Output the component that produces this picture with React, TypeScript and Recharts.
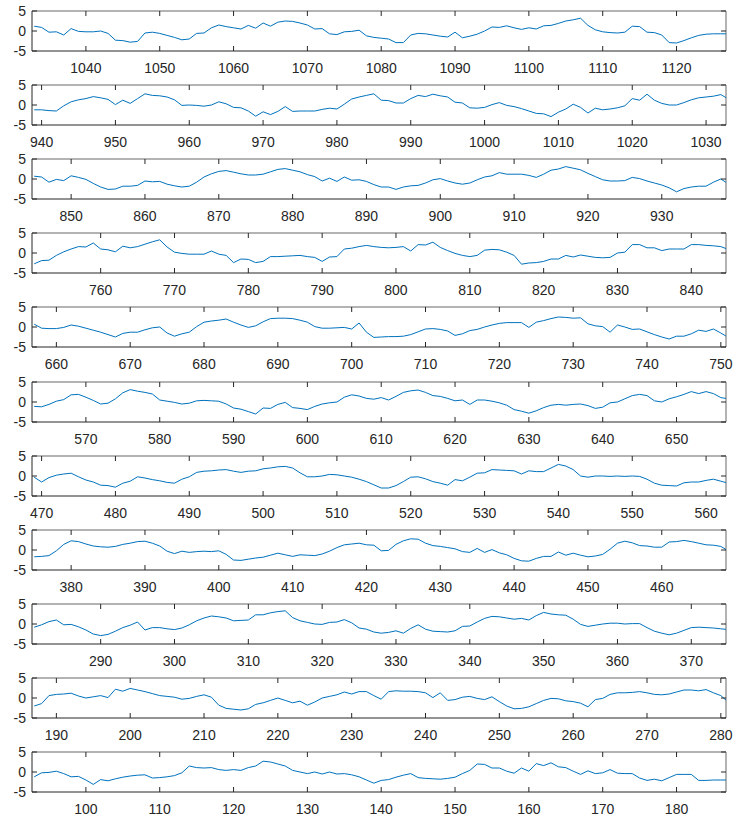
import { LineChart, Line, XAxis, YAxis, ReferenceLine } from "recharts";

// each panel holds 95 consecutive samples, panels top to bottom
const segmentStarts = [1033, 939, 845, 751, 657, 563, 469, 375, 281, 187, 93];
const yTicks = [-5, 0, 5];
const tickStep = 10;

const seg1033 = [
  1.2, 0.9, -0.3, -0.2, -1.0, 0.6, -0.1, -0.2, -0.2, 0.0,
  -0.6, -2.3, -2.4, -2.8, -2.6, -0.5, -0.3, -0.6, -1.1, -1.6,
  -2.2, -2.0, -0.6, -0.5, 0.8, 1.5, 1.1, 0.8, 0.5, 1.4,
  0.7, 2.0, 1.2, 2.2, 2.5, 2.4, 2.0, 1.5, 0.5, 0.6,
  -0.7, -0.9, -0.2, -0.1, 0.2, -1.2, -1.6, -1.8, -2.0, -2.9,
  -2.9, -1.0, -0.6, -0.7, -1.0, -1.3, -1.5, -0.3, -1.7, -1.3,
  -0.8, 0.0, 1.0, 0.9, 1.3, 0.8, 0.4, 0.8, 0.5, 1.3,
  1.4, 1.9, 2.5, 2.8, 3.2, 1.4, 0.3, -0.2, -0.4, -0.5,
  -0.3, 1.2, 1.1, -0.3, -0.4, -1.0, -2.9, -3.0, -2.4, -1.7,
  -1.1, -0.8, -0.7, -0.7, -0.7,
];
const seg939 = [
  -1.2, -1.2, -1.4, -1.5, -0.2, 0.8, 1.3, 1.6, 2.1, 1.8,
  1.4, 0.1, 1.2, 0.4, 1.6, 2.8, 2.4, 2.3, 2.0, 1.3,
  -0.1, 0.0, -0.1, -0.3, 0.0, 0.8, 0.3, -0.6, -0.7, -1.5,
  -2.8, -1.7, -2.4, -1.6, -0.4, -1.6, -1.5, -1.5, -1.5, -1.1,
  -0.8, -1.0, 0.2, 1.5, 2.0, 2.4, 2.8, 1.2, 1.1, 0.5,
  0.5, 1.6, 2.4, 2.1, 2.7, 2.3, 2.0, 0.7, 0.5, -0.7,
  -0.8, -0.6, 0.1, 0.6, -0.1, -0.4, -0.9, -1.5, -2.1, -2.2,
  -2.9, -1.8, -1.0, 0.2, -0.6, -2.0, -0.8, -1.2, -1.0, -0.7,
  -0.2, 1.6, 1.2, 2.7, 1.2, 0.4, 0.0, 0.0, 0.6, 1.3,
  1.8, 2.0, 2.2, 2.6, 1.5,
];
const seg845 = [
  0.7, 0.5, -0.8, -0.1, -0.4, 0.8, 0.4, -0.1, -1.1, -2.0,
  -2.6, -2.5, -1.8, -1.8, -1.6, -0.5, -0.7, -0.6, -1.3, -1.7,
  -2.0, -1.8, -0.8, 0.5, 1.3, 1.9, 2.1, 1.7, 1.3, 1.0,
  1.0, 1.2, 1.8, 2.4, 2.6, 2.2, 1.8, 1.1, 0.6, -0.5,
  0.2, -0.6, 0.5, -0.3, -0.2, -0.6, -1.4, -2.0, -2.0, -2.6,
  -2.0, -1.7, -1.6, -1.0, -0.2, 0.1, -0.5, -1.0, -1.3, -1.0,
  -0.2, 0.5, 0.8, 1.6, 1.2, 1.2, 1.2, 0.9, 0.4, 1.2,
  2.2, 2.5, 3.1, 2.7, 2.3, 1.4, 0.6, -0.2, -0.5, -0.5,
  -0.4, 0.4, 0.1, -0.5, -1.0, -1.5, -2.2, -3.2, -2.4, -2.0,
  -1.8, -1.8, -0.8, 0.0, -1.2,
];
const seg751 = [
  -2.7, -1.9, -1.8, -0.6, 0.3, 1.0, 1.6, 1.5, 2.5, 1.0,
  0.8, 0.3, 1.7, 1.3, 1.6, 2.2, 2.8, 3.3, 1.5, 0.2,
  -0.1, -0.3, -0.3, -0.3, 0.5, -0.3, -0.6, -2.4, -1.5, -1.6,
  -2.4, -2.1, -0.9, -0.9, -0.8, -0.7, -0.6, -0.9, -1.1, -2.1,
  -1.0, -0.9, 1.0, 1.2, 1.6, 1.9, 1.6, 1.4, 1.3, 1.4,
  1.6, 0.5, 2.1, 2.0, 2.7, 1.4, 0.6, -0.1, -0.6, -0.9,
  -0.6, 0.7, 0.9, 0.8, 0.2, -0.6, -2.8, -2.5, -2.4, -2.1,
  -1.5, -1.5, -0.6, -1.0, -0.5, -0.8, -1.1, -1.2, -1.1, 0.0,
  0.2, 2.1, 2.1, 1.3, 1.3, 0.6, 1.0, 1.0, 1.0, 2.1,
  2.1, 1.9, 1.8, 1.6, 0.9,
];
const seg657 = [
  0.7, -0.3, -0.4, -0.4, -0.1, 0.5, 0.2, -0.3, -0.8, -1.3,
  -1.9, -2.5, -1.6, -1.3, -1.3, -0.7, -0.2, 0.0, -1.5, -2.3,
  -1.7, -1.3, 0.1, 1.2, 1.5, 1.7, 2.0, 1.2, 0.5, -0.1,
  0.3, 1.3, 2.1, 2.2, 2.2, 2.1, 1.7, 1.2, 0.1, -0.3,
  -0.3, -0.2, -0.1, -0.5, 1.0, -1.3, -2.6, -2.5, -2.4, -2.4,
  -2.3, -1.9, -1.2, -0.5, -0.4, -0.6, -1.0, -2.1, -1.7, -0.9,
  -0.6, 0.0, 0.5, 0.9, 1.1, 1.1, 1.1, -0.1, 1.2, 1.6,
  2.1, 2.5, 2.4, 2.2, 2.3, 0.8, 0.3, 0.1, -1.3, 0.5,
  0.0, -0.6, -0.5, -1.2, -1.9, -2.5, -3.0, -2.3, -2.3, -1.7,
  -0.8, -1.1, -0.5, -1.5, -2.6,
];
const seg563 = [
  -1.1, -1.2, -0.6, 0.2, 0.6, 1.8, 1.9, 1.2, 0.4, -0.5,
  -0.3, 0.8, 2.3, 3.1, 2.7, 2.4, 2.0, 0.5, 0.2, -0.1,
  -0.5, -0.3, 0.3, 0.4, 0.3, 0.2, -0.5, -1.5, -1.8, -2.4,
  -3.0, -1.5, -1.6, -0.6, -0.1, -1.4, -1.6, -1.9, -1.1, -0.5,
  -0.2, 0.0, 1.2, 1.8, 1.5, 0.9, 0.7, 1.1, 0.5, 1.4,
  2.4, 2.8, 3.0, 2.4, 1.6, 1.4, 0.9, 0.3, 0.5, -0.6,
  0.5, 0.5, 0.2, -0.2, -0.8, -1.9, -2.3, -2.8, -2.2, -1.4,
  -0.8, -0.6, -0.8, -0.6, -0.5, -0.9, -1.6, -1.3, -0.2, 0.0,
  0.8, 1.6, 1.9, 1.6, 0.3, 0.0, 0.8, 1.3, 1.9, 2.6,
  2.1, 2.6, 2.1, 1.1, 0.8,
];
const seg469 = [
  -0.3, -1.5, -0.4, 0.2, 0.5, 0.7, -0.2, -1.0, -1.5, -2.3,
  -2.4, -2.8, -1.8, -1.3, -0.2, -0.5, -0.9, -1.2, -1.6, -1.8,
  -0.8, -0.2, 0.9, 1.2, 1.3, 1.5, 1.6, 1.2, 0.9, 1.2,
  1.3, 1.8, 2.0, 2.3, 2.4, 2.0, 0.8, -0.2, -0.2, 0.0,
  0.4, 0.3, 0.0, -0.3, -0.8, -1.4, -2.2, -3.0, -3.0, -2.4,
  -1.4, -0.3, -0.2, -0.7, -1.4, -1.8, -2.3, -0.9, -1.2, -0.3,
  0.7, 0.8, 1.6, 1.5, 1.4, 1.3, 0.5, 1.3, 1.1, 1.1,
  2.0, 2.9, 2.5, 1.6, 0.0, -0.3, 0.0, 0.0, -0.1, 0.0,
  -0.1, 0.0, -0.1, -0.8, -1.8, -2.3, -2.4, -2.5, -1.7, -1.5,
  -1.5, -1.1, -0.8, -1.3, -1.8,
];
const seg375 = [
  -1.7, -1.6, -1.4, -0.2, 1.4, 2.3, 2.1, 1.5, 1.0, 0.8,
  0.7, 0.9, 1.4, 1.7, 2.1, 2.2, 1.7, 1.0, -0.3, -0.9,
  -0.3, -0.6, -0.4, -0.3, -0.4, -0.2, -1.1, -2.5, -2.6, -2.3,
  -2.0, -1.8, -1.3, -0.8, -1.2, -1.6, -1.2, -1.3, -1.4, -1.0,
  -0.3, 0.6, 1.3, 1.5, 1.7, 1.3, 1.2, -0.2, -0.1, 1.4,
  2.3, 2.8, 2.7, 1.7, 1.1, 0.9, 0.6, 0.3, -0.4, -0.6,
  0.4, -0.6, 0.1, -0.7, -1.2, -2.1, -2.7, -2.8, -2.1, -1.6,
  -1.6, -0.5, -1.3, -0.8, -1.3, -1.7, -1.5, -1.1, 0.2, 1.7,
  2.2, 1.8, 1.1, 1.0, 0.7, 0.7, 2.0, 2.1, 2.4, 2.1,
  1.7, 1.3, 1.2, 0.9, -0.2,
];
const seg281 = [
  -0.8, -0.2, 0.6, 1.0, -0.2, -0.1, -0.7, -1.5, -2.5, -2.9,
  -2.6, -1.8, -0.9, -0.3, 0.5, -1.5, -0.9, -0.9, -1.2, -1.4,
  -1.0, -0.2, 0.8, 1.5, 2.0, 1.8, 1.5, 0.8, 0.9, 1.0,
  2.3, 2.3, 2.8, 3.1, 3.3, 1.6, 0.8, 0.4, 0.0, -0.1,
  0.4, 0.5, 1.1, 0.3, -1.0, -1.3, -2.0, -2.3, -2.1, -1.7,
  -2.3, -1.1, -0.2, -1.3, -1.8, -1.9, -2.0, -1.7, -0.6, -0.5,
  0.5, 1.4, 1.9, 1.8, 1.5, 1.2, 1.4, 1.0, 2.1, 2.9,
  2.5, 2.3, 2.2, 1.2, -0.1, -0.6, -0.3, 0.0, 0.2, 0.2,
  0.0, 0.1, 0.1, -0.9, -1.8, -2.3, -2.7, -2.3, -1.6, -0.9,
  -0.8, -0.9, -1.0, -1.2, -1.4,
];
const seg187 = [
  -2.0, -1.4, 0.6, 0.9, 1.0, 1.2, 0.5, 0.0, 0.3, 0.6,
  0.1, 2.2, 1.7, 2.4, 2.0, 1.6, 1.1, 0.6, 0.4, 0.2,
  -0.3, -0.1, 0.4, 0.8, 0.2, -1.8, -2.6, -2.8, -3.0, -2.7,
  -1.6, -1.2, -0.6, 0.0, -0.6, -1.2, -0.8, -1.8, -1.0, 0.0,
  0.4, 0.8, 1.5, 1.0, 1.6, 1.6, 0.6, -0.3, 1.6, 1.8,
  1.7, 1.7, 1.6, 1.3, 0.1, 1.3, -0.6, -0.4, 0.2, 0.4,
  -0.1, -0.4, 0.3, -0.9, -2.0, -2.7, -2.6, -2.2, -1.4, -0.6,
  -0.1, -0.2, -0.7, -0.9, -1.3, -2.2, -0.4, -0.1, 0.9, 1.3,
  1.3, 1.4, 1.6, 1.3, 0.9, 0.8, 1.0, 1.5, 2.0, 2.0,
  1.8, 2.1, 1.3, 0.6, -1.0,
];
const seg093 = [
  -1.2, -0.2, -0.1, 0.2, -0.4, -1.2, -1.1, -2.0, -3.1, -1.9,
  -2.2, -1.7, -1.3, -1.0, -0.8, -0.7, -1.5, -1.4, -1.2, -0.9,
  -0.2, 1.5, 1.1, 1.0, 1.1, 0.6, 0.4, 0.6, 0.4, 1.1,
  1.5, 2.7, 2.5, 2.0, 1.5, 0.4, 0.0, -0.4, 0.0, -0.5,
  0.0, -0.5, -0.4, -0.7, -1.2, -2.0, -2.8, -2.1, -1.9, -1.3,
  -0.8, -0.4, -1.4, -1.6, -1.7, -1.8, -1.6, -1.3, -0.4, 0.4,
  2.0, 1.9, 1.0, 1.0, 0.2, -0.3, 1.0, 0.2, 2.1, 1.6,
  2.3, 1.3, 1.1, 0.2, -0.6, 0.3, -0.4, -0.2, 0.6, -0.3,
  -0.4, -0.4, -1.5, -2.1, -1.8, -2.2, -1.4, -0.6, -0.6, -0.6,
  -2.1, -2.1, -2.0, -2.0, -2.0,
];

const segments = [seg1033, seg939, seg845, seg751, seg657, seg563, seg469, seg375, seg281, seg187, seg093];

const CHART_W = 734;
const CHART_H = 79;
const ROW_STEP = 74.1;
const TOP = 11;
const PLOT_H = 40;
const LEFT = 32;
const RIGHT = 8;
const PLOT_W = CHART_W - LEFT - RIGHT;
const AXIS = "#262626";
const FONT = "'Liberation Sans', Arial, Helvetica, sans-serif";

function XTick(props: any) {
  const { x, y, payload } = props;
  return (
    <g>
      <line x1={x} y1={y} x2={x} y2={y - 5} stroke={AXIS} strokeWidth={1} />
      <line x1={x} y1={y - PLOT_H} x2={x} y2={y - PLOT_H + 5} stroke={AXIS} strokeWidth={1} />
      <text x={x} y={y + 22} textAnchor="middle" fontSize={14} fill={AXIS} fontFamily={FONT}>
        {payload.value}
      </text>
    </g>
  );
}

function YTick(props: any) {
  const { x, y, payload } = props;
  return (
    <g>
      <line x1={x} y1={y} x2={x + 5} y2={y} stroke={AXIS} strokeWidth={1} />
      <line x1={x + PLOT_W} y1={y} x2={x + PLOT_W - 5} y2={y} stroke={AXIS} strokeWidth={1} />
      <text x={x - 6} y={y + 5} textAnchor="end" fontSize={14} fill={AXIS} fontFamily={FONT}>
        {payload.value}
      </text>
    </g>
  );
}

function Panel({ start, values }: { start: number; values: number[] }) {
  const data = values.map((v, i) => ({ x: start + i, v }));
  const lo = start - 0.3;
  const hi = start + 93.7;
  const ticks: number[] = [];
  for (let t = Math.ceil(lo / tickStep) * tickStep; t <= hi; t += tickStep) ticks.push(t);

  return (
    <LineChart
      width={CHART_W}
      height={CHART_H}
      data={data}
      margin={{ top: TOP, right: RIGHT, bottom: 0, left: 0 }}
    >
      <XAxis
        dataKey="x"
        type="number"
        domain={[lo, hi]}
        allowDataOverflow
        ticks={ticks}
        interval={0}
        tickSize={0}
        tickMargin={0}
        tickLine={false}
        tick={<XTick />}
        axisLine={{ stroke: AXIS, strokeWidth: 1 }}
        height={CHART_H - TOP - PLOT_H}
      />
      <YAxis
        type="number"
        domain={[-5, 5]}
        ticks={yTicks}
        interval={0}
        tickSize={0}
        tickMargin={0}
        tickLine={false}
        tick={<YTick />}
        axisLine={{ stroke: AXIS, strokeWidth: 1 }}
        width={LEFT}
      />
      <ReferenceLine y={5} stroke="#9a9a9a" strokeWidth={1.5} />
      <ReferenceLine x={hi} stroke="#9a9a9a" strokeWidth={1.5} />
      <Line
        type="linear"
        dataKey="v"
        stroke="#0072BD"
        strokeWidth={1}
        dot={false}
        activeDot={false}
        isAnimationActive={false}
      />
    </LineChart>
  );
}

export default function App() {
  return (
    <div
      style={{
        position: "absolute",
        left: 0,
        top: 0,
        width: CHART_W,
        height: 825,
        background: "#fff",
        overflow: "hidden",
      }}
    >
      {segments.map((vals, k) => (
        <div
          key={segmentStarts[k]}
          style={{ position: "absolute", left: 0, top: Math.round(k * ROW_STEP) }}
        >
          <Panel start={segmentStarts[k]} values={vals} />
        </div>
      ))}
    </div>
  );
}
